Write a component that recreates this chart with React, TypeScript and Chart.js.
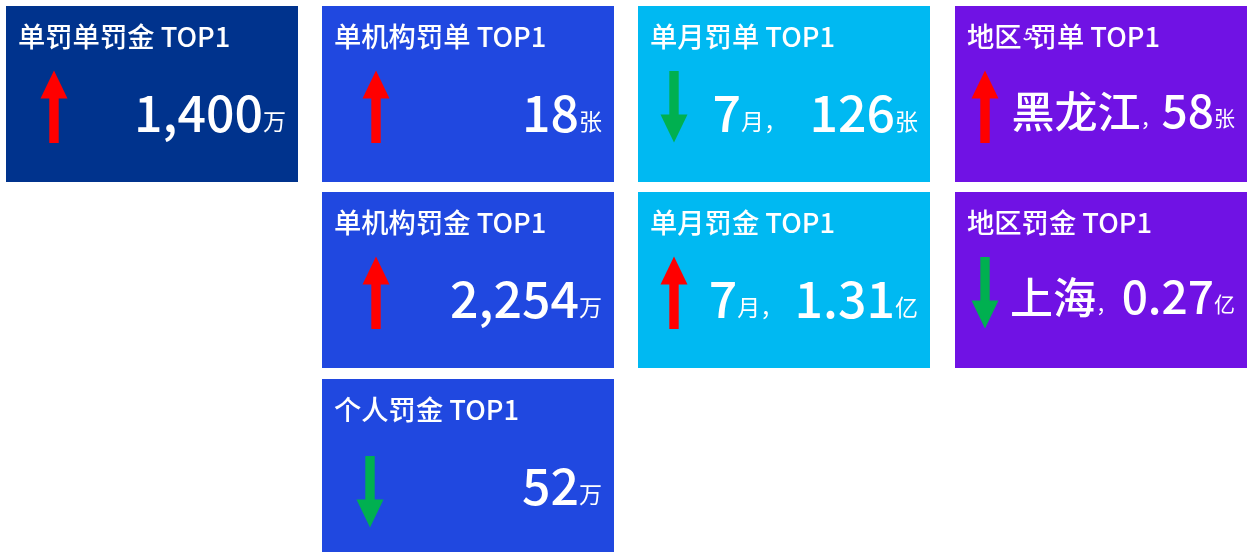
import React, { useEffect, useRef } from "react";
import { Chart, registerables } from "chart.js";

Chart.register(...registerables);

// ---- data ----
const cardTitles: [string, string][][] = [
  [["单罚单罚金 TOP1", "t"]],
  [["单机构罚单 TOP1", "t"]],
  [["单机构罚金 TOP1", "t"]],
  [["个人罚金 TOP1", "t"]],
  [["单月罚单 TOP1", "t"]],
  [["单月罚金 TOP1", "t"]],
  [["地区", "t"], ["5", "sup"], ["罚单 TOP1", "t"]],
  [["地区罚金 TOP1", "t"]],
];
const cardValues: [string, string][][] = [
  [["1,400", "n"], ["万", "u"]],
  [["18", "n"], ["张", "u"]],
  [["2,254", "n"], ["万", "u"]],
  [["52", "n"], ["万", "u"]],
  [["7", "n"], ["月，", "u"], ["  126", "n"], ["张", "u"]],
  [["7", "n"], ["月，", "u"], [" 1.31", "n"], ["亿", "u"]],
  [["黑龙江", "r"], ["，", "u"], ["58", "n"], ["张", "u"]],
  [["上海", "r"], ["， ", "u"], ["0.27", "n"], ["亿", "u"]],
];
const cardTrends = ["up", "up", "up", "down", "down", "up", "up", "down"];

// ---- layout & style ----
const cardCol = [0, 1, 1, 1, 2, 2, 3, 3];
const cardRow = [0, 0, 1, 2, 0, 1, 0, 1];
const arrowOffset = [48, 54, 54, 48, 36, 36, 30, 30];
const arrowDy = [0, 0, 0, 12, 0, 0, 0, 0];
const colX = [6, 322, 638, 955];
const rowY = [6, 192, 379];
const colColors = ["#00338D", "#2048E0", "#00B9F2", "#7012E4"];
const CARD_W = 292;
const CARD_H = 176;
const FONT = '"Noto Sans CJK SC", "Noto Sans", sans-serif';
const titleFont: Record<string, string> = {
  t: `500 27.3px ${FONT}`,
  sup: `italic 500 16px ${FONT}`,
};
const valueFontNormal: Record<string, string> = {
  n: `500 50px ${FONT}`,
  r: `500 43px ${FONT}`,
  u: `400 23px ${FONT}`,
};
const valueFontRegion: Record<string, string> = {
  n: `500 46px ${FONT}`,
  r: `500 43px ${FONT}`,
  u: `400 21px ${FONT}`,
};

const cardPlugin = {
  id: "kpiCards",
  afterDraw(chart: any) {
    const ctx: CanvasRenderingContext2D = chart.ctx;
    ctx.save();
    for (let i = 0; i < cardTitles.length; i++) {
      const col = cardCol[i];
      const x = colX[col];
      const y = rowY[cardRow[i]];
      ctx.fillStyle = colColors[col];
      ctx.fillRect(x, y, CARD_W, CARD_H);

      // title
      ctx.fillStyle = "#ffffff";
      ctx.textBaseline = "alphabetic";
      ctx.textAlign = "left";
      let tx = x + 12;
      for (const [txt, kind] of cardTitles[i]) {
        ctx.font = titleFont[kind];
        if (kind === "sup") {
          ctx.fillText(txt, tx + 1, y + 34);
          tx += 8;
        } else {
          ctx.fillText(txt, tx, y + 40.5);
          tx += ctx.measureText(txt).width;
        }
      }

      // arrow
      const cx = x + arrowOffset[i];
      const dy = arrowDy[i];
      const headH = 28;
      const headHalf = 13.5;
      const shaftHalf = 4.7;
      if (cardTrends[i] === "up") {
        const top = y + 64.5 + dy;
        const bottom = y + 137 + dy;
        ctx.fillStyle = "#FF0000";
        ctx.beginPath();
        ctx.moveTo(cx, top);
        ctx.lineTo(cx + headHalf, top + headH);
        ctx.lineTo(cx - headHalf, top + headH);
        ctx.closePath();
        ctx.fill();
        ctx.fillRect(cx - shaftHalf, top + headH - 0.5, shaftHalf * 2, bottom - top - headH + 0.5);
      } else {
        const top = y + 65 + dy;
        const tip = y + 136.5 + dy;
        ctx.fillStyle = "#00B050";
        ctx.fillRect(cx - shaftHalf, top, shaftHalf * 2, tip - top - headH + 0.5);
        ctx.beginPath();
        ctx.moveTo(cx - headHalf, tip - headH);
        ctx.lineTo(cx + headHalf, tip - headH);
        ctx.lineTo(cx, tip);
        ctx.closePath();
        ctx.fill();
      }

      // value (right aligned)
      const isRegion = col === 3;
      const vf = isRegion ? valueFontRegion : valueFontNormal;
      const baseBig = isRegion ? 122 : 126;
      const baseUnit = isRegion ? 120 : 124;
      ctx.fillStyle = "#ffffff";
      const segs = cardValues[i];
      let total = 0;
      const widths: number[] = [];
      for (const [txt, kind] of segs) {
        ctx.font = vf[kind];
        const w = ctx.measureText(txt).width;
        widths.push(w);
        total += w;
      }
      let vx = x + CARD_W - 12 - total;
      segs.forEach(([txt, kind], k) => {
        ctx.font = vf[kind];
        ctx.fillText(txt, vx, y + (kind === "u" ? baseUnit : baseBig));
        vx += widths[k];
      });
    }
    ctx.restore();
  },
};

export default function App() {
  const ref = useRef<HTMLCanvasElement | null>(null);
  useEffect(() => {
    if (!ref.current) return;
    const chart = new Chart(ref.current, {
      type: "bar",
      data: { labels: [], datasets: [] },
      options: {
        responsive: false,
        animation: false,
        events: [],
        layout: { padding: 0 },
        plugins: { legend: { display: false }, tooltip: { enabled: false } },
        scales: { x: { display: false }, y: { display: false } },
      },
      plugins: [cardPlugin],
    });
    const fonts: any = (document as any).fonts;
    if (fonts && fonts.ready) fonts.ready.then(() => chart.draw());
    return () => chart.destroy();
  }, []);
  return (
    <div style={{ position: "absolute", left: 0, top: 0, width: 1252, height: 552, background: "#ffffff" }}>
      <canvas ref={ref} width={1252} height={552} style={{ display: "block" }} />
    </div>
  );
}
